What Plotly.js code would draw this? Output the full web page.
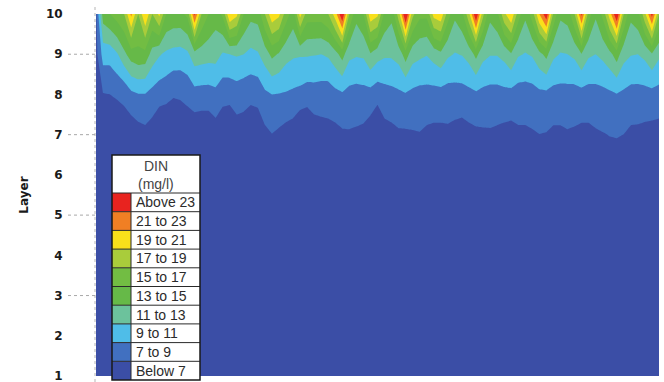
<!DOCTYPE html>
<html><head><meta charset="utf-8">
<script src="https://cdn.plot.ly/plotly-3.0.1.min.js"></script>
<style>html,body{margin:0;padding:0;overflow:hidden;background:#fff}#chart{width:664px;height:400px}</style>
</head><body><div id="chart"></div>
<script>
// x: model time step, y: layer
const timeStep = [1,2,3,4,5,6,7,8,9,10,11,12,13,14,15,16,17,18,19,20,21,22,23,24,25,26,27,28,29,30,31,32,33,34,35,36,37,38,39,40,41,42,43,44,45,46,47,48,49,50,51,52,53,54,55,56,57,58,59,60,61,62,63,64,65,66,67,68,69,70,71,72,73,74,75,76,77,78,79,80,81];
const layers = [1,2,3,4,5,6,7,8,9,10];
const yTickLabels = ['1','2','3','4','5','6','7','8','9','10'];

// DIN (mg/l) in layers 1-6 read as "Below 7" everywhere
const layerDeep = [4.6, 4.8, 5.0, 5.3, 5.6, 6.0];
const layer7 = [5.8,6.0,6.0,6.0,6.0,5.6,6.1,6.4,6.0,5.2,5.1,6.0,5.8,5.8,5.5,5.4,5.4,6.0,5.4,5.3,6.1,6.2,5.6,5.8,6.5,6.95,6.6,6.2,5.9,4.8,4.8,5.9,6.2,6.4,6.4,6.7,6.8,6.7,6.5,5.9,5.0,6.2,6.4,6.7,6.7,6.8,6.9,6.6,6.5,6.5,6.6,6.3,6.1,6.4,6.6,6.7,6.75,6.6,6.4,6.3,6.65,6.65,6.8,6.97,6.9,6.6,6.6,6.8,6.7,6.5,6.5,6.75,6.9,7.05,7.1,6.98,6.6,6.55,6.4,6.3,6.2];
const layer8 = [6.0,6.9,7.0,7.15,7.4,8.5,8.9,8.9,8.3,7.8,7.6,7.1,7.2,7.5,8.2,8.1,8.1,8.4,7.7,7.6,7.9,7.6,7.5,7.6,8.6,9.0,8.9,8.8,8.6,8.4,8.0,8.1,8.0,7.9,8.4,8.7,8.3,8.2,8.3,8.2,7.7,8.2,8.4,8.6,8.8,8.5,8.3,8.3,8.2,8.2,8.1,8.2,8.2,8.4,8.6,8.4,8.3,8.3,8.4,8.3,8.1,8.1,8.2,8.5,8.5,8.3,8.3,8.3,8.2,8.2,8.2,8.3,8.4,8.6,8.9,8.6,8.3,8.3,8.3,8.3,8.2];
const layer9 = [6.3,9.8,9.8,10.8,12.5,14.0,14.5,14.3,12.2,11.2,10.6,10.3,10.2,10.6,12.2,12.0,11.8,11.8,10.8,11.0,11.2,11.0,10.5,10.8,12.0,13.5,12.8,11.7,11.3,11.2,11.2,11.1,11.0,11.3,12.3,13.8,11.5,11.2,11.3,12.8,11.8,11.3,11.3,11.8,14.0,11.8,11.4,11.1,11.8,12.5,11.3,10.9,11.1,11.8,13.6,11.6,11.1,11.1,11.6,12.8,11.2,10.9,11.2,12.4,13.6,11.4,10.9,11.0,11.4,12.9,11.3,11.0,11.5,12.4,14.0,11.7,11.1,11.0,11.5,12.8,11.4];
const layer10 = [6.5,14.0,15.0,16.0,17.0,21.5,17.0,21.0,17.0,19.5,15.0,14.5,14.5,15.5,23.5,17.0,15.0,13.8,15.4,21.0,19.5,15.0,13.6,13.8,17.0,20.5,19.5,16.0,14.0,19.8,16.0,16.0,16.0,17.0,20.0,25.0,17.0,13.6,15.0,20.5,19.5,14.5,13.5,18.0,25.5,17.5,15.5,15.5,19.8,20.5,16.0,13.4,14.5,18.5,25.0,17.5,13.5,14.5,18.5,20.8,16.0,13.4,16.0,21.0,24.5,16.5,13.4,13.8,17.0,23.5,16.0,13.3,15.5,20.0,25.0,17.0,13.5,14.3,18.5,23.8,17.0];

// legend classes (top to bottom) and colours
const dinLabels = ['Above 23','21 to 23','19 to 21','17 to 19','15 to 17','13 to 15','11 to 13','9 to 11','7 to 9','Below 7'];
const dinColors = ['#e8231f','#f07f24','#f9e01b','#a9cc3b','#72bd43','#66b948','#6cc29c','#4fbde8','#4170c0','#3b4ea6'];
const contourLevels = {start: 7, end: 23, size: 2};

// build z grid (rows = layers)
const z = [];
layerDeep.forEach(v => z.push(timeStep.map(() => v)));
z.push(layer7, layer8, layer9, layer10);

// stepped colour scale: band k (from "Below 7" upwards) at k/9
const upColors = dinColors.slice().reverse();
const cs = [];
upColors.forEach((c, k) => {
  const lo = k === 0 ? 0 : (k - 0.5) / 9;
  const hi = k === 9 ? 1 : (k + 0.5) / 9;
  cs.push([lo, c]); cs.push([hi, c]);
});

const trace = {
  type: 'contour', x: timeStep, y: layers, z: z,
  autocontour: false,
  contours: {start: contourLevels.start, end: contourLevels.end, size: contourLevels.size, coloring: 'fill', showlines: false},
  line: {width: 0, smoothing: 0},
  colorscale: cs, showscale: false, hoverinfo: 'skip'
};

// geometry helpers (plot area: px 96..659, py 14..376)
const L = 96, R = 659, T = 14, B = 376;
const xp = px => (px - L) / (R - L);
const yp = py => (B - py) / (B - T);

const shapes = [];
const annotations = [];
// left axis dotted line and dotted ticks
shapes.push({type: 'line', xref: 'paper', yref: 'paper', x0: xp(95), x1: xp(95), y0: yp(382), y1: yp(5), line: {color: '#b5b5b5', width: 1, dash: 'dot'}});
[3, 5, 7, 9].forEach(v => shapes.push({type: 'line', xref: 'paper', yref: 'y', x0: xp(68), x1: xp(95), y0: v, y1: v, line: {color: '#a8a8a8', width: 1, dash: 'dot'}}));

// legend table
const tL = 112, tR = 200, tT = 155, hB = 193, rowH = 18.7, swR = 131;
const tB = hB + rowH * dinLabels.length;
shapes.push({type: 'rect', xref: 'paper', yref: 'paper', x0: xp(tL), x1: xp(tR), y0: yp(tB), y1: yp(tT), fillcolor: '#ffffff', line: {width: 0}});
dinLabels.forEach((lab, i) => {
  const r0 = hB + i * rowH, r1 = r0 + rowH;
  shapes.push({type: 'rect', xref: 'paper', yref: 'paper', x0: xp(tL), x1: xp(swR), y0: yp(r1), y1: yp(r0), fillcolor: dinColors[i], line: {width: 0}});
  shapes.push({type: 'line', xref: 'paper', yref: 'paper', x0: xp(tL), x1: xp(tR), y0: yp(r0), y1: yp(r0), line: {color: '#2a2a2a', width: 1}});
  annotations.push({xref: 'paper', yref: 'paper', x: xp(swR + 3), y: yp((r0 + r1) / 2), text: lab, showarrow: false, xanchor: 'left', yanchor: 'middle', font: {family: 'Liberation Sans, Arial', size: 14, color: '#2b2b2b'}});
});
shapes.push({type: 'line', xref: 'paper', yref: 'paper', x0: xp(swR), x1: xp(swR), y0: yp(tB), y1: yp(hB), line: {color: '#2a2a2a', width: 1}});
shapes.push({type: 'rect', xref: 'paper', yref: 'paper', x0: xp(tL), x1: xp(tR), y0: yp(tB), y1: yp(tT), line: {color: '#1a1a1a', width: 1.5}});
annotations.push({xref: 'paper', yref: 'paper', x: xp((tL + tR) / 2), y: yp(166), text: 'DIN', showarrow: false, xanchor: 'center', yanchor: 'middle', font: {family: 'Liberation Sans, Arial', size: 14, color: '#444'}});
annotations.push({xref: 'paper', yref: 'paper', x: xp((tL + tR) / 2), y: yp(184), text: '(mg/l)', showarrow: false, xanchor: 'center', yanchor: 'middle', font: {family: 'Liberation Sans, Arial', size: 14, color: '#444'}});

const layout = {
  width: 664, height: 400,
  margin: {l: L, r: 664 - R, t: T, b: 400 - B},
  paper_bgcolor: '#ffffff', plot_bgcolor: '#ffffff',
  showlegend: false,
  xaxis: {range: [timeStep[0], timeStep[timeStep.length - 1]], showticklabels: false, ticks: '', showgrid: false, zeroline: false, showline: false},
  yaxis: {range: [1, 10], tickvals: layers, ticktext: yTickLabels, ticks: 'outside', ticklen: 30, tickcolor: 'rgba(0,0,0,0)',
    showgrid: false, zeroline: false, showline: false,
    tickfont: {family: 'DejaVu Sans', size: 12, color: '#1a1a1a', weight: 'bold'},
    title: {text: 'Layer', standoff: 14, font: {family: 'DejaVu Sans', size: 12, color: '#1a1a1a', weight: 'bold'}}},
  shapes: shapes, annotations: annotations
};

Plotly.newPlot('chart', [trace], layout, {displayModeBar: false, staticPlot: true});
</script></body></html>
